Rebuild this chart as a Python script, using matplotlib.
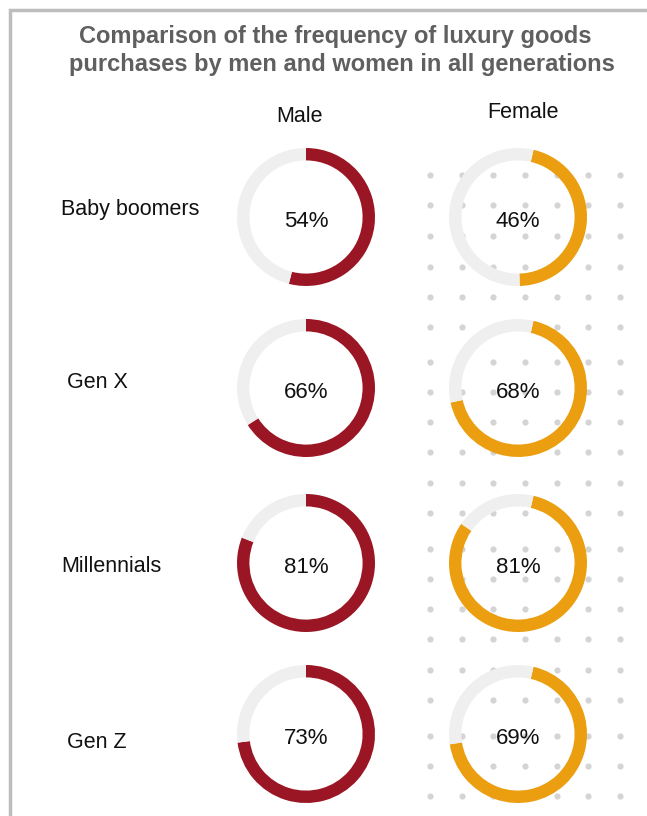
import matplotlib.pyplot as plt
import numpy as np

plt.rcParams['font.family'] = ['Liberation Sans', 'DejaVu Sans']

# data
generations = ['Baby boomers', 'Gen X', 'Millennials', 'Gen Z']
male = [54, 66, 81, 73]
female = [46, 68, 81, 69]

W, H = 647, 816
fig = plt.figure(figsize=(W / 100, H / 100), dpi=100)

# background axes in pixel coordinates
bg = fig.add_axes([0, 0, 1, 1])
bg.set_xlim(0, W)
bg.set_ylim(H, 0)
bg.axis('off')

# frame (left and top only)
bg.plot([10, 10, W], [H, 10, 10], color='#bdbdbd', lw=2.5, solid_joinstyle='miter')

# dotted texture behind the female column
dot_x = [430, 462, 493, 525, 557, 588, 620]
dot_y = [175, 205, 236, 267, 297, 327, 362, 392, 422, 452, 483, 513,
         549, 579, 609, 639, 670, 700, 736, 766, 796]
dx, dy = np.meshgrid(dot_x, dot_y)
bg.scatter(dx.ravel(), dy.ravel(), s=20, color='#d4d4d4', lw=0, zorder=1)

# titles
bg.text(335, 37, 'Comparison of the frequency of luxury goods', ha='center', va='center',
        fontsize=17, fontweight='bold', color='#5f5f5f')
bg.text(342, 64, 'purchases by men and women in all generations', ha='center', va='center',
        fontsize=17, fontweight='bold', color='#5f5f5f')
bg.text(300, 116, 'Male', ha='center', va='center', fontsize=15.5, color='#111111')
bg.text(523, 112, 'Female', ha='center', va='center', fontsize=15.5, color='#111111')

centers_y = [217, 388, 563, 734]
label_x = [61, 67, 61, 67]
label_y = [210, 382, 567, 742]
cols = [(306, male, '#9b1624', 0), (518, female, '#eb9e0f', 13)]

R = 69
for i, gen in enumerate(generations):
    bg.text(label_x[i], label_y[i], gen, ha='left', va='center', fontsize=15.5, color='#111111')
    for cx, vals, color, offset in cols:
        cy = centers_y[i]
        ax = fig.add_axes([(cx - R) / W, 1 - (cy + R) / H, 2 * R / W, 2 * R / H])
        v = vals[i]
        ax.pie([v, 100 - v], colors=[color, '#efefef'], startangle=90 - offset,
               counterclock=False, radius=1,
               wedgeprops=dict(width=0.18, linewidth=0))
        ax.set_xlim(-1, 1)
        ax.set_ylim(-1, 1)
        ax.set_aspect('equal')
        ax.axis('off')
        ax.text(0, -0.06, f'{v}%', ha='center', va='center', fontsize=16, color='#111111')

fig.savefig('out.png', dpi=100)
